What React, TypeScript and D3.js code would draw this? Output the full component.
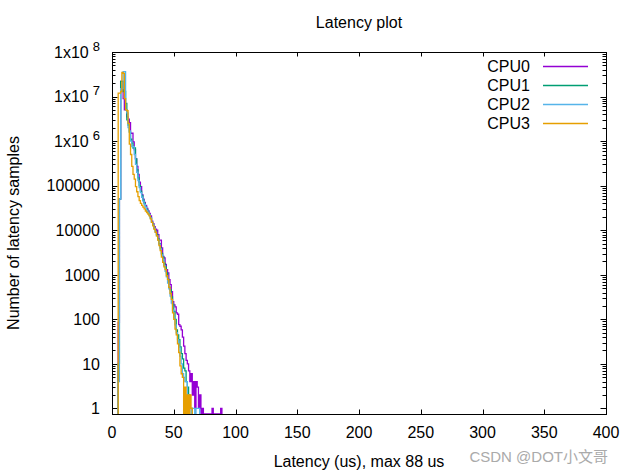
import React, { useEffect, useRef } from "react";
import * as d3 from "d3";

// counts per 1us latency bin, index = latency in us
const cpu0Counts = [
  0, 0, 0, 0, 0, 85, 50000, 22000000, 22000000, 9000000,
  5000000, 5000000, 3500000, 3100000, 2600000, 1500000, 1500000, 960000, 640000, 400000,
  270000, 180000, 120000, 95000, 63000, 50000, 42000, 36000, 31000, 27000,
  24000, 21000, 16000, 14000, 12000, 10500, 10000, 8000, 6000, 6000,
  4000, 2600, 2400, 1700, 1300, 1100, 780, 600, 420, 250,
  210, 190, 140, 130, 76, 70, 58, 40, 25, 17,
  12, 10, 7, 4, 6, 2, 4, 1, 4, 3,
  1, 2, 0, 1, 0, 0, 0, 0, 0, 0,
  0, 1, 0, 0, 0, 0, 0, 0, 1,
];

const cpu1Counts = [
  0, 0, 0, 0, 0, 10, 50000, 22000000, 22000000, 13000000,
  13000000, 7000000, 3000000, 2300000, 1600000, 1100000, 900000, 700000, 700000, 400000,
  230000, 150000, 100000, 75000, 60000, 47000, 40000, 34000, 29000, 25000,
  22000, 19000, 15000, 13000, 11000, 9500, 8000, 6500, 5000, 4000,
  3000, 2500, 1800, 1500, 1100, 800, 530, 460, 320, 215,
  150, 100, 58, 45, 35, 24, 17, 13, 8, 7,
  4, 3, 2, 1, 1,
];

const cpu2Counts = [
  0, 0, 0, 0, 0, 4, 50000, 15000000, 15000000, 36000000,
  36000000, 5000000, 4300000, 2000000, 1700000, 1000000, 750000, 750000, 500000, 300000,
  200000, 130000, 90000, 70000, 55000, 45000, 38000, 33000, 28000, 25000,
  22000, 19000, 15000, 13000, 11000, 9000, 7500, 6000, 4800, 3800,
  2800, 2200, 1600, 1200, 900, 650, 480, 330, 230, 160,
  110, 75, 50, 35, 24, 15, 10, 6, 5, 4,
  4, 2, 1, 1, 0, 1, 1, 0, 1, 1,
  1,
];

const cpu3Counts = [
  0, 0, 0, 0, 0, 12000000, 12000000, 13000000, 35000000, 33000000,
  9000000, 5000000, 4800000, 2500000, 860000, 500000, 270000, 180000, 140000, 95000,
  73000, 57000, 46000, 40000, 36000, 33000, 30000, 27000, 25000, 23000,
  21000, 18000, 15000, 12500, 10500, 9000, 7500, 6000, 4500, 3500,
  2500, 1900, 1500, 1300, 950, 780, 520, 380, 280, 140,
  100, 60, 45, 28, 18, 9, 6, 5, 0, 3,
  0, 2, 0, 2, 1,
];

const cpuNames = ["CPU0", "CPU1", "CPU2", "CPU3"];
const cpuColors = ["#9400d3", "#009e73", "#56b4e9", "#e69f00"];

const latencyTicks = [0, 50, 100, 150, 200, 250, 300, 350, 400];
const countTicks = [1, 10, 100, 1000, 10000, 100000, 1e6, 1e7, 1e8];
const countTickLabels = ["1", "10", "100", "1000", "10000", "100000", "1x10^6", "1x10^7", "1x10^8"];

const FONT = "'Liberation Sans', Arial, Helvetica, sans-serif";

export default function App() {
  const svgRef = useRef<SVGSVGElement>(null);

  useEffect(() => {
    if (!svgRef.current) return;
    const width = 634;
    const height = 474;
    const margin = { top: 52, right: 28, bottom: 60, left: 112 };
    const innerW = width - margin.left - margin.right;
    const innerH = height - margin.top - margin.bottom;

    const svg = d3.select(svgRef.current);
    svg.selectAll("*").remove();
    svg.attr("width", width).attr("height", height);

    svg.append("rect").attr("width", width).attr("height", height).attr("fill", "#fff");

    const g = svg.append("g").attr("transform", `translate(${margin.left},${margin.top})`);

    const x = d3.scaleLinear().domain([0, 400]).range([0, innerW]);
    const y = d3.scaleLog().domain([0.75, 1e8]).range([innerH, 0]);

    // ticks: major + minor, on all four sides, pointing inward
    const majorLen = 4.5;
    const minorLen = 2.5;
    const tickG = g.append("g").attr("stroke", "#000").attr("stroke-width", 1);
    latencyTicks.forEach((t) => {
      const px = Math.round(x(t)) + 0.5;
      tickG.append("line").attr("x1", px).attr("x2", px).attr("y1", innerH).attr("y2", innerH - majorLen);
      tickG.append("line").attr("x1", px).attr("x2", px).attr("y1", 0).attr("y2", majorLen);
    });
    const minorVals: number[] = [];
    for (let e = 0; e < 8; e++) {
      for (let m = 2; m <= 9; m++) minorVals.push(m * Math.pow(10, e));
    }
    countTicks.forEach((t) => {
      const py = Math.round(y(t)) + 0.5;
      tickG.append("line").attr("x1", 0).attr("x2", majorLen + 1).attr("y1", py).attr("y2", py);
      tickG.append("line").attr("x1", innerW).attr("x2", innerW - majorLen - 1).attr("y1", py).attr("y2", py);
    });
    minorVals.forEach((t) => {
      const py = Math.round(y(t)) + 0.5;
      tickG.append("line").attr("x1", 0).attr("x2", minorLen + 1).attr("y1", py).attr("y2", py);
      tickG.append("line").attr("x1", innerW).attr("x2", innerW - minorLen - 1).attr("y1", py).attr("y2", py);
    });

    // x tick labels
    g.append("g")
      .selectAll("text")
      .data(latencyTicks)
      .enter()
      .append("text")
      .attr("x", (d) => x(d))
      .attr("y", innerH + 24)
      .attr("text-anchor", "middle")
      .style("font-family", FONT)
      .style("font-size", "16px")
      .text((d) => String(d));

    // y tick labels
    const yl = g
      .append("g")
      .selectAll("text")
      .data(countTicks)
      .enter()
      .append("text")
      .attr("x", -12)
      .attr("y", (d) => y(d))
      .attr("dy", "0.36em")
      .attr("text-anchor", "end")
      .style("font-family", FONT)
      .style("font-size", "16px");
    yl.each(function (_d, i) {
      const label = countTickLabels[i];
      const t = d3.select(this);
      if (label.includes("^")) {
        const [base, exp] = label.split("^");
        t.append("tspan").text(base);
        t.append("tspan").attr("dx", 4).attr("dy", -7).style("font-size", "13px").text(exp);
      } else {
        t.text(label);
      }
    });

    // data lines
    g.append("clipPath")
      .attr("id", "plotClip")
      .append("rect")
      .attr("x", 0)
      .attr("y", 0)
      .attr("width", innerW)
      .attr("height", innerH);

    const line = d3
      .line<[number, number]>()
      .x((d) => x(d[0]))
      .y((d) => (d[1] > 0 ? y(d[1]) : innerH))
      .curve(d3.curveStepAfter);

    const allSeries = [cpu0Counts, cpu1Counts, cpu2Counts, cpu3Counts];
    const linesG = g.append("g").attr("clip-path", "url(#plotClip)");
    allSeries.forEach((counts, si) => {
      const first = counts.findIndex((c) => c > 0);
      let last = counts.length - 1;
      while (last > 0 && counts[last] === 0) last--;
      const pts: [number, number][] = [[first, 0]];
      for (let i = first; i <= last; i++) pts.push([i, counts[i]]);
      pts.push([last + 1, 0]);
      linesG
        .append("path")
        .attr("d", line(pts) || "")
        .attr("fill", "none")
        .attr("stroke", cpuColors[si])
        .attr("stroke-width", 1.3);
    });

    // frame
    g.append("rect")
      .attr("x", 0.5)
      .attr("y", 0.5)
      .attr("width", innerW)
      .attr("height", innerH)
      .attr("fill", "none")
      .attr("stroke", "#000")
      .attr("stroke-width", 1);

    // legend
    const legend = g.append("g");
    cpuNames.forEach((name, i) => {
      const ly = 66 - margin.top + i * 19;
      legend
        .append("text")
        .attr("x", 530 - margin.left)
        .attr("y", ly)
        .attr("dy", "0.35em")
        .attr("text-anchor", "end")
        .style("font-family", FONT)
        .style("font-size", "16px")
        .text(name);
      legend
        .append("line")
        .attr("x1", 543 - margin.left)
        .attr("x2", 588 - margin.left)
        .attr("y1", ly + 0.5)
        .attr("y2", ly + 0.5)
        .attr("stroke", cpuColors[i])
        .attr("stroke-width", 1.3);
    });

    // title and axis labels
    svg
      .append("text")
      .attr("x", margin.left + innerW / 2)
      .attr("y", 28)
      .attr("text-anchor", "middle")
      .style("font-family", FONT)
      .style("font-size", "16px")
      .text("Latency plot");

    svg
      .append("text")
      .attr("x", margin.left + innerW / 2)
      .attr("y", 467)
      .attr("text-anchor", "middle")
      .style("font-family", FONT)
      .style("font-size", "16px")
      .text("Latency (us), max 88 us");

    svg
      .append("text")
      .attr("transform", `translate(19,${margin.top + innerH / 2}) rotate(-90)`)
      .attr("text-anchor", "middle")
      .style("font-family", FONT)
      .style("font-size", "16px")
      .text("Number of latency samples");

    svg
      .append("text")
      .attr("x", 608)
      .attr("y", 462)
      .attr("text-anchor", "end")
      .attr("fill", "#aaaaaa")
      .style("font-family", "'Liberation Sans', Arial, 'Noto Sans CJK SC', sans-serif")
      .style("font-size", "15px")
      .text("CSDN @DOT小文哥");
  }, []);

  return (
    <svg
      ref={svgRef}
      style={{ position: "fixed", left: 0, top: 0, display: "block" }}
    />
  );
}
